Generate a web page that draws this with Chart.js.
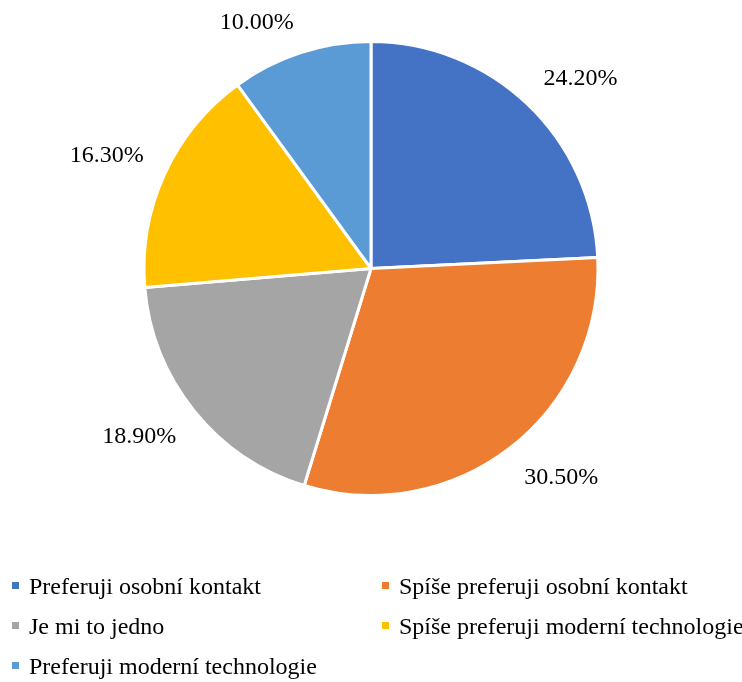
<!DOCTYPE html>
<html>
<head>
<meta charset="utf-8">
<script src="https://cdn.jsdelivr.net/npm/chart.js@4"></script>
<style>
  html, body { margin: 0; padding: 0; background: #ffffff; }
  #wrap { position: relative; width: 742px; height: 682px; }
</style>
</head>
<body>
<div id="wrap"><canvas id="chart"></canvas></div>
<script>
// Survey answers: preference between personal contact and modern technology
const categories = [
  'Preferuji osobní kontakt',
  'Spíše preferuji osobní kontakt',
  'Je mi to jedno',
  'Spíše preferuji moderní technologie',
  'Preferuji moderní technologie'
];
const shares = [24.2, 30.5, 18.9, 16.3, 10.0];
const sliceColors = ['#4472C4', '#ED7D31', '#A5A5A5', '#FFC000', '#5B9BD5'];

const FONT = '"Liberation Serif", "Times New Roman", serif';
const FONT_SIZE = 24;

// Percentage labels outside each slice: the label box corner nearest the pie
// sits on a ring just beyond the slice edge, along the slice's middle angle
const outsideLabels = {
  id: 'outsideLabels',
  afterDatasetsDraw(chart) {
    const ctx = chart.ctx;
    const meta = chart.getDatasetMeta(0);
    const values = chart.data.datasets[0].data;
    ctx.save();
    ctx.font = FONT_SIZE + 'px ' + FONT;
    ctx.fillStyle = '#000000';
    ctx.textAlign = 'center';
    ctx.textBaseline = 'alphabetic';
    const halfH = FONT_SIZE * 0.42;
    meta.data.forEach((arc, i) => {
      const p = arc.getProps(['x', 'y', 'startAngle', 'endAngle', 'outerRadius'], true);
      const mid = (p.startAngle + p.endAngle) / 2;
      const text = values[i].toFixed(2) + '%';
      const halfW = ctx.measureText(text).width / 2;
      const ring = p.outerRadius + 23;
      const cx = Math.cos(mid), cy = Math.sin(mid);
      const x = p.x + cx * ring + Math.sign(cx) * halfW;
      const yc = p.y + cy * ring + Math.sign(cy) * halfH;
      ctx.fillText(text, x, yc + FONT_SIZE * 0.33);
    });
    ctx.restore();
  }
};

// Two-column legend under the pie
const gridLegend = {
  id: 'gridLegend',
  afterDraw(chart) {
    const ctx = chart.ctx;
    const ds = chart.data.datasets[0];
    const colX = [12, 382];
    const firstBaseline = 594;
    const rowGap = 40;
    const box = 7;
    ctx.save();
    ctx.font = FONT_SIZE + 'px ' + FONT;
    ctx.textAlign = 'left';
    ctx.textBaseline = 'alphabetic';
    chart.data.labels.forEach((label, i) => {
      const col = i % 2;
      const row = Math.floor(i / 2);
      const x = colX[col];
      const base = firstBaseline + row * rowGap;
      ctx.fillStyle = ds.backgroundColor[i];
      ctx.fillRect(x, base - 8.5 - box / 2, box, box);
      ctx.fillStyle = '#000000';
      ctx.fillText(label, x + 17, base);
    });
    ctx.restore();
  }
};

new Chart(document.getElementById('chart'), {
  type: 'pie',
  data: {
    labels: categories,
    datasets: [{
      data: shares,
      backgroundColor: sliceColors,
      borderColor: '#ffffff',
      borderWidth: 3
    }]
  },
  options: {
    responsive: true,
    maintainAspectRatio: false,
    animation: false,
    layout: { padding: { top: 40, bottom: 185, left: 0, right: 0 } },
    plugins: {
      legend: { display: false },
      tooltip: { enabled: false }
    }
  },
  plugins: [outsideLabels, gridLegend]
});
</script>
</body>
</html>
